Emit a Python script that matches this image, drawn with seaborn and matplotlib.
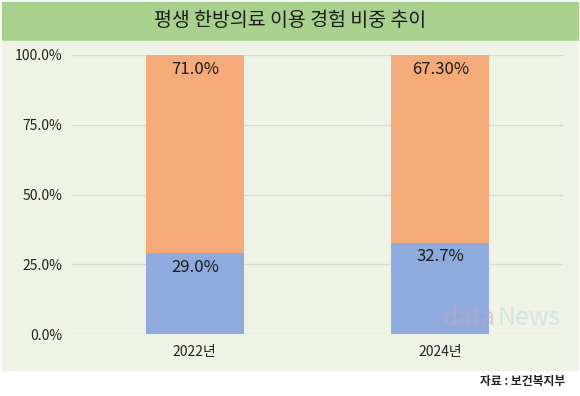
import matplotlib
matplotlib.use("Agg")
import matplotlib.pyplot as plt
import seaborn as sns
import pandas as pd
from matplotlib.patches import Rectangle

# ── Data ─────────────────────────────────────────────────────────────────────
years      = ['2022년', '2024년']
used       = [29.0, 32.7]      # 이용 경험 있음
not_used   = [71.0, 67.3]      # 이용 경험 없음
used_txt   = ['29.0%', '32.7%']
notused_txt = ['71.0%', '67.30%']
yticks     = [0, 25, 50, 75, 100]

TITLE  = '평생 한방의료 이용 경험 비중 추이'
SOURCE = '자료 : 보건복지부'

# ── Style ────────────────────────────────────────────────────────────────────
sns.set_theme(style='white')
plt.rcParams['font.family'] = ['Noto Sans CJK KR', 'DejaVu Sans']

C_BLUE   = '#8FAADC'
C_ORANGE = '#F4AA79'
C_BAND   = '#A9D18E'
C_BG     = '#EEF3E6'

df = pd.DataFrame({'year': years, 'used': used,
                   'total': [u + n for u, n in zip(used, not_used)]})

fig = plt.figure(figsize=(5.8, 3.96), dpi=100)
fig.patch.set_facecolor('white')

# title band and plot background
fig.patches.append(Rectangle((2/580, 1 - 40/396), 576/580, 38/396,
                             transform=fig.transFigure, color=C_BAND, zorder=-2))
fig.patches.append(Rectangle((2/580, 1 - 370/396), 576/580, 329/396,
                             transform=fig.transFigure, color=C_BG, zorder=-2))
fig.text(0.5, 1 - 21/396, TITLE, ha='center', va='center',
         fontsize=14, color='#1a1a1a', fontweight='medium')
fig.text(0.975, 1 - 381/396, SOURCE, ha='right', va='center',
         fontsize=8.5, color='#222222', fontweight='bold')

ax = fig.add_axes([72/580, 62/396, 491/580, 279/396])
ax.set_facecolor('none')

sns.barplot(data=df, x='year', y='total', color=C_ORANGE, width=0.4,
            saturation=1, linewidth=0, ax=ax, zorder=3)
sns.barplot(data=df, x='year', y='used', color=C_BLUE, width=0.4,
            saturation=1, linewidth=0, ax=ax, zorder=4)

for i in range(len(years)):
    ax.text(i, used[i] + not_used[i] - 2.0, notused_txt[i], ha='center',
            va='top', fontsize=12, color='#1a1a1a', zorder=5)
    ax.text(i, used[i] - 2.0, used_txt[i], ha='center', va='top',
            fontsize=12, color='#1a1a1a', zorder=5)

ax.set_xlim(-0.5, 1.5)
ax.set_ylim(0, 100)
ax.set_yticks(yticks)
ax.set_yticklabels([f'{v:.1f}%' for v in yticks])
ax.grid(axis='y', color='#D6D9D6', linewidth=1, zorder=0)
ax.set_axisbelow(True)
ax.set_xlabel('')
ax.set_ylabel('')
for s in ax.spines.values():
    s.set_visible(False)
ax.tick_params(axis='both', length=0, labelsize=10, colors='#222222')
ax.tick_params(axis='y', pad=7)
ax.tick_params(axis='x', pad=8)

# faint watermark
ax.text(1.01, 1, 'data', fontsize=18, color='#C9A5C0',
        alpha=0.5, ha='left', va='bottom', zorder=6)
ax.text(1.235, 1, 'News', fontsize=18, color='#B3D8DA',
        alpha=0.5, ha='left', va='bottom', zorder=6)

fig.savefig('out.png', dpi=100)
